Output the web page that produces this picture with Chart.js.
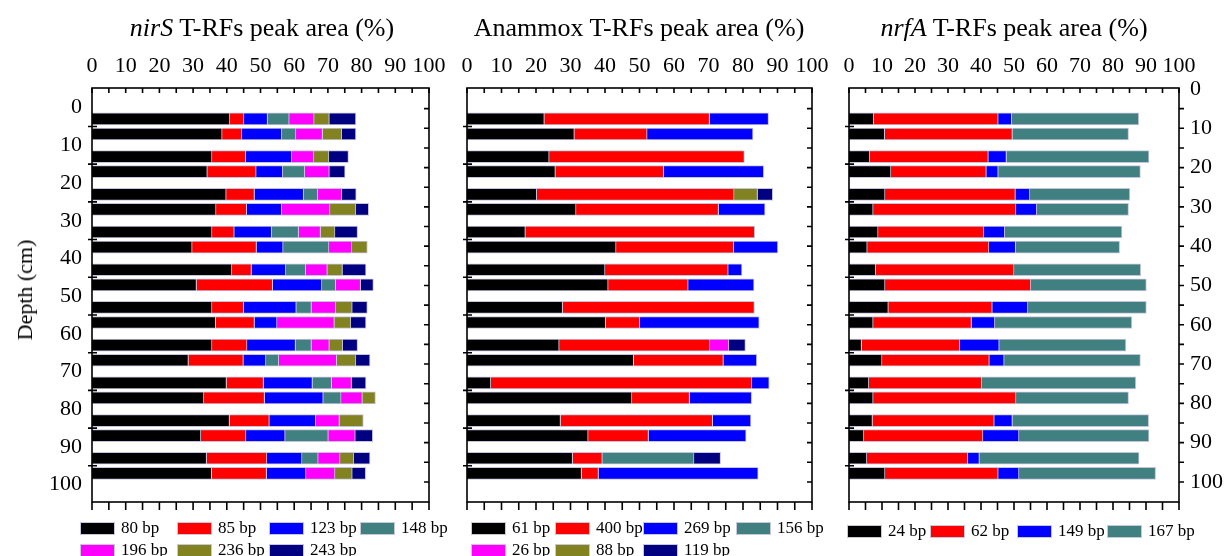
<!DOCTYPE html>
<html>
<head>
<meta charset="utf-8">
<script src="https://cdn.jsdelivr.net/npm/chart.js@4/dist/chart.umd.min.js"></script>
<style>
    body { margin: 0; background: #fff; }
    #fig { position: relative; width: 1229px; height: 556px; font-family: "Liberation Serif", "Times New Roman", serif; color: #000; }
    #fig canvas { position: absolute; left: 0; top: 0; }
    .ttl { position: absolute; top: 12px; font-size: 26px; line-height: 32px; white-space: nowrap; transform: translateX(-50%); }
    .ylab { position: absolute; left: 25px; top: 290px; font-size: 22px; white-space: nowrap; transform: translate(-50%, -50%) rotate(-90deg); }
    .lg { position: absolute; display: flex; align-items: center; height: 20px; font-size: 17px; white-space: nowrap; }
    .lg span { display: inline-block; width: 35px; height: 13px; margin-right: 6px; box-sizing: border-box; border: 1px solid #c8c8dc; }
</style>
</head>
<body>
<div id="fig">
    <canvas id="c1" width="1229" height="556"></canvas>
    <canvas id="c2" width="1229" height="556"></canvas>
    <canvas id="c3" width="1229" height="556"></canvas>
    <div class="ttl" style="left:262px"><i>nirS</i> T-RFs peak area (%)</div>
    <div class="ttl" style="left:639px">Anammox T-RFs peak area (%)</div>
    <div class="ttl" style="left:1014px"><i>nrfA</i> T-RFs peak area (%)</div>
    <div class="ylab">Depth (cm)</div>
</div>
<script>
// bar positions on the depth axis (two samples per 10 cm)
const depthPos = [3, 7, 13, 17, 23, 27, 33, 37, 43, 47, 53, 57, 63, 67, 73, 77, 83, 87, 93, 97];
const depthTicks = [0, 10, 20, 30, 40, 50, 60, 70, 80, 90, 100];

// nirS
const nirsLabels = ['80 bp', '85 bp', '123 bp', '148 bp', '196 bp', '236 bp', '243 bp'];
const nirsColors = ['#000000', '#ff0000', '#0000ff', '#408080', '#ff00ff', '#828220', '#000080'];
const nirs80 = [40.9, 38.6, 35.6, 34.2, 39.8, 36.8, 35.6, 29.7, 41.5, 31.0, 35.6, 36.7, 35.6, 28.6, 39.9, 33.2, 40.8, 32.3, 34.0, 35.5];
const nirs85 = [4.2, 5.9, 10.0, 14.5, 8.4, 9.1, 6.6, 19.1, 5.8, 22.6, 9.4, 11.5, 10.4, 16.3, 11.0, 18.0, 11.8, 13.4, 17.9, 16.3];
const nirs123 = [7.0, 11.8, 13.7, 7.9, 14.6, 10.4, 11.1, 7.9, 10.2, 14.6, 15.6, 6.7, 14.4, 6.7, 14.5, 17.4, 13.8, 11.6, 10.4, 11.7];
const nirs148 = [6.4, 4.2, 0, 6.5, 4.2, 0, 8.0, 13.6, 5.9, 4.1, 4.5, 0, 4.7, 3.8, 5.7, 5.3, 0, 12.8, 4.8, 0];
const nirs196 = [7.4, 7.9, 6.5, 7.3, 7.1, 14.3, 6.5, 6.8, 6.4, 7.4, 7.2, 17.0, 5.3, 17.2, 5.9, 6.3, 7.0, 8.0, 6.5, 8.6];
const nirs236 = [4.5, 5.7, 4.5, 0, 0, 7.7, 4.3, 4.6, 4.5, 0, 4.9, 4.9, 4.0, 5.7, 0, 3.9, 7.1, 0, 4.1, 5.1];
const nirs243 = [7.9, 4.2, 5.8, 4.7, 4.3, 3.8, 6.7, 0, 7.0, 3.8, 4.5, 4.5, 4.4, 4.2, 4.3, 0, 0, 5.2, 4.8, 4.0];

// Anammox
const anaLabels = ['61 bp', '400 bp', '269 bp', '156 bp', '26 bp', '88 bp', '119 bp'];
const anaColors = ['#000000', '#ff0000', '#0000ff', '#408080', '#ff00ff', '#828220', '#000080'];
const ana61 = [22.4, 31.1, 23.8, 25.6, 20.2, 31.6, 16.9, 43.2, 40.0, 40.9, 27.7, 40.2, 26.7, 48.3, 6.9, 47.8, 27.1, 35.1, 30.6, 33.2];
const ana400 = [47.9, 21.1, 56.6, 31.4, 57.2, 41.3, 66.5, 34.1, 35.7, 23.2, 55.6, 9.9, 43.7, 26.0, 75.7, 16.7, 44.1, 17.5, 8.6, 4.9];
const ana269 = [17.1, 30.7, 0, 29.0, 0, 13.5, 0, 12.8, 4.0, 19.1, 0, 34.6, 0, 9.7, 5.0, 18.0, 11.1, 28.3, 0, 46.3];
const ana156 = [0, 0, 0, 0, 0, 0, 0, 0, 0, 0, 0, 0, 0, 0, 0, 0, 0, 0, 26.6, 0];
const ana26 = [0, 0, 0, 0, 0, 0, 0, 0, 0, 0, 0, 0, 5.5, 0, 0, 0, 0, 0, 0, 0];
const ana88 = [0, 0, 0, 0, 6.8, 0, 0, 0, 0, 0, 0, 0, 0, 0, 0, 0, 0, 0, 0, 0];
const ana119 = [0, 0, 0, 0, 4.4, 0, 0, 0, 0, 0, 0, 0, 4.8, 0, 0, 0, 0, 0, 7.7, 0];

// nrfA
const nrfLabels = ['24 bp', '62 bp', '149 bp', '167 bp'];
const nrfColors = ['#000000', '#ff0000', '#0000ff', '#408080'];
const nrf24 = [7.5, 10.8, 6.3, 12.7, 10.9, 7.3, 8.8, 5.5, 8.1, 10.9, 11.9, 7.3, 3.8, 10.0, 6.0, 7.3, 7.1, 4.5, 5.4, 10.9];
const nrf62 = [37.7, 38.7, 35.9, 28.9, 39.5, 43.3, 32.1, 36.9, 41.9, 44.2, 31.5, 29.8, 29.8, 32.5, 34.2, 43.3, 36.9, 36.1, 30.6, 34.3];
const nrf149 = [4.1, 0, 5.5, 3.6, 4.4, 6.3, 6.3, 8.1, 0, 0, 10.8, 7.1, 11.9, 4.5, 0, 0, 5.5, 10.9, 3.5, 6.3];
const nrf167 = [38.5, 35.2, 43.2, 43.1, 30.3, 27.8, 35.5, 31.5, 38.4, 35.0, 35.9, 41.5, 38.4, 41.3, 46.7, 34.1, 41.3, 39.4, 48.4, 41.4];

const FONT = '"Liberation Serif", "Times New Roman", serif';

function makeSets(labels, colors, series) {
    return series.map((vals, i) => ({
        label: labels[i],
        data: vals.map((v, j) => ({x: v || null, y: depthPos[j]})),
        backgroundColor: colors[i],
        borderColor: '#c4c4dc',
        borderWidth: 1,
        barThickness: 12,
        xAxisID: 'x',
        yAxisID: 'y'
    }));
}

// frame + inward/outward tick marks
const frameTicks = {
    id: 'frameTicks',
    afterDraw(chart, args, o) {
        const {ctx, chartArea: a, scales} = chart;
        ctx.save();
        ctx.strokeStyle = '#000';
        ctx.lineWidth = 1.6;
        ctx.strokeRect(a.left, a.top, a.right - a.left, a.bottom - a.top);
        ctx.beginPath();
        for (let v = 0; v <= 100; v += 5) {
            const x = scales.x.getPixelForValue(v);
            ctx.moveTo(x, a.top);
            ctx.lineTo(x, a.top + 5);
            ctx.moveTo(x, a.bottom);
            ctx.lineTo(x, a.bottom + 8);
        }
        for (let v = 5; v < 100; v += 10) {
            const y = scales.y.getPixelForValue(v);
            ctx.moveTo(a.left - 4, y);
            ctx.lineTo(a.left + 5, y);
        }
        for (let v = 5; v <= 100; v += 5) {
            const y = scales.yR.getPixelForValue(v);
            ctx.moveTo(a.right, y);
            ctx.lineTo(a.right + (o.rightOut ? 5 : -5), y);
        }
        ctx.stroke();
        ctx.restore();
    }
};

function noPad(s) {
    s.paddingLeft = s.paddingRight = s.paddingTop = s.paddingBottom = 0;
}

function makeChart(id, sets, pad, showLeft, showRight) {
    const tickFont = {family: FONT, size: 22};
    return new Chart(document.getElementById(id), {
        type: 'bar',
        data: {datasets: sets},
        options: {
            responsive: false,
            animation: false,
            indexAxis: 'y',
            layout: {padding: pad},
            plugins: {
                legend: {display: false},
                tooltip: {enabled: false},
                frameTicks: {rightOut: showRight}
            },
            scales: {
                x: {
                    type: 'linear', position: 'top', min: 0, max: 100, stacked: true,
                    ticks: {stepSize: 10, autoSkip: false, maxRotation: 0, font: tickFont, color: '#000', padding: 9},
                    grid: {display: false, drawTicks: false},
                    border: {display: false},
                    afterFit: s => { s.height = 40; noPad(s); }
                },
                y: {
                    type: 'linear', position: 'left', reverse: true, min: -5.2, max: 104.6, stacked: true,
                    offset: false,
                    display: showLeft,
                    afterBuildTicks: s => { s.ticks = depthTicks.map(v => ({value: v})); },
                    ticks: {font: tickFont, color: '#000', padding: 10},
                    grid: {display: false, drawTicks: false},
                    border: {display: false},
                    afterFit: s => { s.width = showLeft ? 60 : 0; noPad(s); }
                },
                yR: {
                    type: 'linear', position: 'right', reverse: true, min: -0.25, max: 105.1,
                    offset: false,
                    display: showRight,
                    afterBuildTicks: s => { s.ticks = depthTicks.map(v => ({value: v})); },
                    ticks: {font: tickFont, color: '#000', padding: 11},
                    grid: {display: false, drawTicks: false},
                    border: {display: false},
                    afterFit: s => { s.width = showRight ? 50 : 0; noPad(s); }
                }
            }
        },
        plugins: [frameTicks]
    });
}

makeChart('c1', makeSets(nirsLabels, nirsColors, [nirs80, nirs85, nirs123, nirs148, nirs196, nirs236, nirs243]),
    {left: 32, right: 800, top: 48, bottom: 54}, true, false);
makeChart('c2', makeSets(anaLabels, anaColors, [ana61, ana400, ana269, ana156, ana26, ana88, ana119]),
    {left: 467, right: 417, top: 48, bottom: 54}, false, false);
makeChart('c3', makeSets(nrfLabels, nrfColors, [nrf24, nrf62, nrf149, nrf167]),
    {left: 849, right: 0, top: 48, bottom: 54}, false, true);

// legends laid out in columns like the original figure
function legend(labels, colors, cols, rows) {
    const fig = document.getElementById('fig');
    labels.forEach((t, i) => {
        const el = document.createElement('div');
        el.className = 'lg';
        el.style.left = cols[i % cols.length] + 'px';
        el.style.top = (rows[Math.floor(i / cols.length)] - 10) + 'px';
        el.innerHTML = `<span style="background:${colors[i]}"></span>${t}`;
        fig.appendChild(el);
    });
}
legend(nirsLabels, nirsColors, [80, 177, 269, 360], [528, 550]);
legend(anaLabels, anaColors, [471, 555, 643, 736], [528, 550]);
legend(nrfLabels, nrfColors, [847, 930, 1017, 1107], [531]);
</script>
</body>
</html>
